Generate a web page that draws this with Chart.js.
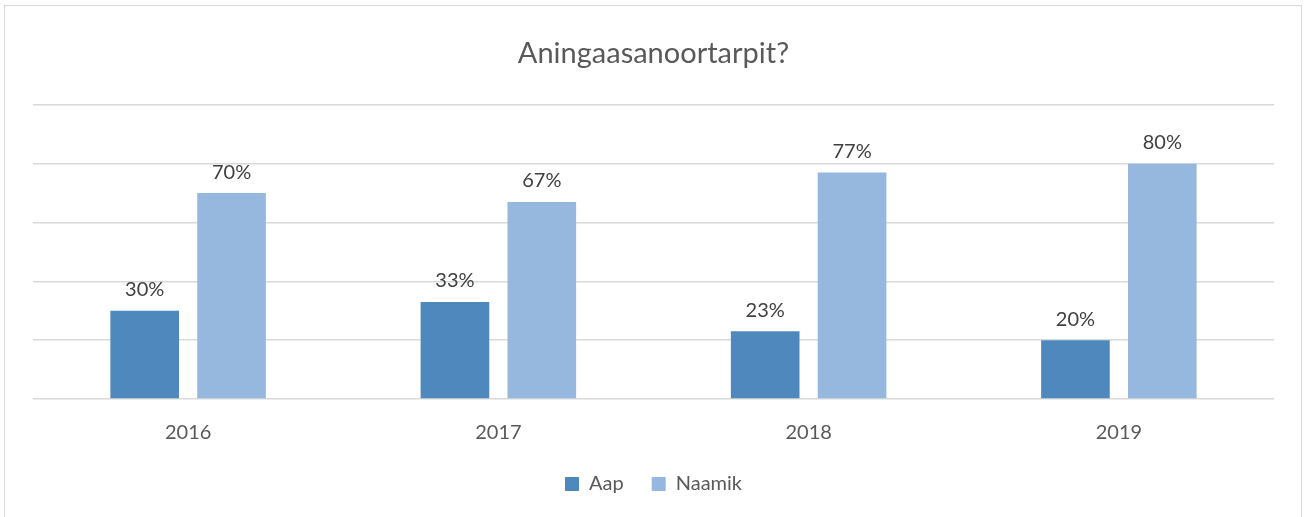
<!DOCTYPE html>
<html>
<head>
<meta charset="utf-8">
<script src="https://cdn.jsdelivr.net/npm/chart.js@4/dist/chart.umd.min.js"></script>
<style>
    body { margin: 0; background: #fff; }
    #wrap { position: relative; width: 1304px; height: 517px; }
    #frame { position: absolute; left: 4px; top: 5px; width: 1296px; height: 520px; border: 1px solid #d9d9d9; pointer-events: none; }
</style>
</head>
<body>
<div id="wrap">
    <canvas id="chart" width="1304" height="517"></canvas>
    <div id="frame"></div>
</div>
<script>
const years = ['2016', '2017', '2018', '2019'];
const aapValues = [30, 33, 23, 20];
const naamikValues = [70, 67, 77, 80];
const yTicks = [0, 20, 40, 60, 80, 100];

const textColor = '#595959';
const fontFamily = 'Lato, "Open Sans", sans-serif';

// percent labels above each bar
const barLabels = {
    id: 'barLabels',
    afterDatasetsDraw(chart) {
        const ctx = chart.ctx;
        ctx.save();
        ctx.font = '20px ' + fontFamily;
        ctx.fillStyle = '#404040';
        ctx.textAlign = 'center';
        ctx.textBaseline = 'middle';
        chart.data.datasets.forEach((ds, i) => {
            chart.getDatasetMeta(i).data.forEach((bar, j) => {
                ctx.fillText(ds.data[j] + '%', bar.x, bar.y - 21);
            });
        });
        ctx.restore();
    }
};

new Chart(document.getElementById('chart'), {
    type: 'bar',
    data: {
        labels: years,
        datasets: [{
            label: 'Aap',
            data: aapValues,
            backgroundColor: '#4f88bc',
            categoryPercentage: 0.56,
            barPercentage: 0.79
        }, {
            label: 'Naamik',
            data: naamikValues,
            backgroundColor: '#97b8de',
            categoryPercentage: 0.56,
            barPercentage: 0.79
        }]
    },
    options: {
        responsive: false,
        animation: false,
        layout: { padding: { left: 33, right: 30, top: 0, bottom: 13 } },
        plugins: {
            title: {
                display: true,
                text: 'Aningaasanoortarpit?',
                color: textColor,
                font: { family: fontFamily, size: 29, weight: 'normal' },
                padding: { top: 36, bottom: 34 }
            },
            legend: {
                position: 'bottom',
                labels: {
                    color: textColor,
                    font: { family: fontFamily, size: 20 },
                    boxWidth: 14,
                    boxHeight: 14,
                    padding: 28
                }
            },
            tooltip: { enabled: false }
        },
        scales: {
            x: {
                grid: { display: false },
                border: { display: false },
                ticks: { color: textColor, font: { family: fontFamily, size: 20 }, padding: 14 },
                // pull the legend up closer to the year labels
                afterFit(scale) { scale.height -= 13; }
            },
            y: {
                min: 0,
                max: 100,
                afterBuildTicks(scale) { scale.ticks = yTicks.map(v => ({ value: v })); },
                grid: { color: '#d9d9d9', lineWidth: 1.5, drawTicks: false },
                border: { display: false },
                ticks: { display: false }
            }
        }
    },
    plugins: [barLabels]
});
</script>
</body>
</html>
